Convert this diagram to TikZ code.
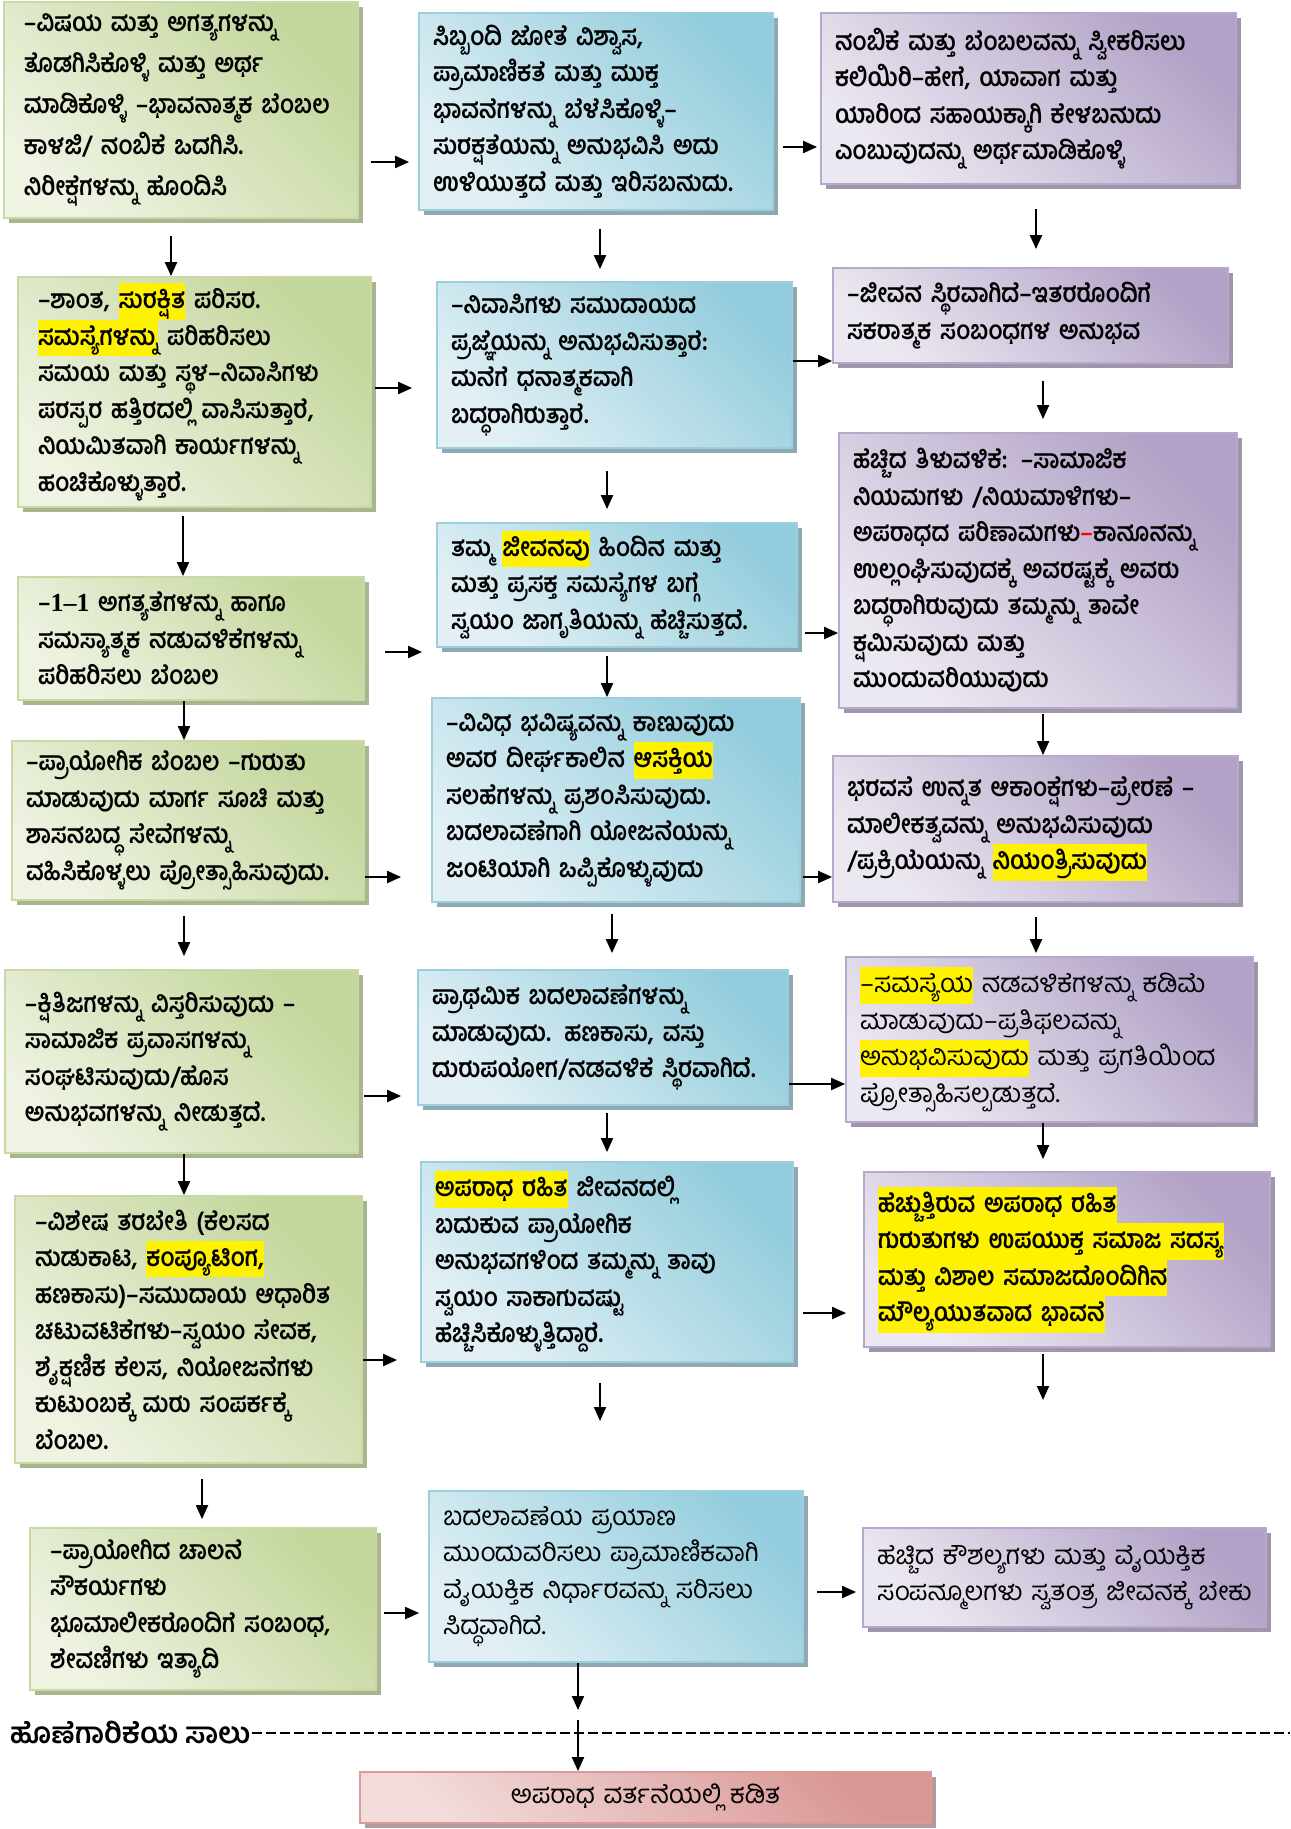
\documentclass[tikz,border=0pt]{standalone}
\usepackage{fontspec}
\usetikzlibrary{arrows.meta,shadows}
\newfontfamily\kn[Script=Kannada, FakeStretch=0.88]{Hind Mysuru}
\newfontfamily\knr[Script=Kannada]{Hind Mysuru}
\newfontfamily\tms{Liberation Serif}
\definecolor{gdark}{HTML}{C3D69B}
\definecolor{glight}{HTML}{EEF3E2}
\definecolor{gedge}{HTML}{C8D9A6}
\definecolor{gshad}{HTML}{A9B58E}
\definecolor{bdark}{HTML}{93CDDD}
\definecolor{blight}{HTML}{E2F0F5}
\definecolor{bedge}{HTML}{9CCFDD}
\definecolor{bshad}{HTML}{8FA9B3}
\definecolor{pdark}{HTML}{B2A2C7}
\definecolor{plight}{HTML}{ECE8F1}
\definecolor{pedge}{HTML}{B7A9CB}
\definecolor{pshad}{HTML}{A096AB}
\definecolor{rdark}{HTML}{D99694}
\definecolor{rlight}{HTML}{F2DCDB}
\definecolor{redge}{HTML}{DA9A98}
\definecolor{rshad}{HTML}{B39A9A}
\newcommand{\hilite}[1]{{\setlength{\fboxsep}{0pt}\colorbox{yellow}{\strut#1}}}

\begin{document}
\begin{tikzpicture}[x=0.5pt, y=-0.5pt,
  arr/.style={line width=1pt, -{Triangle[length=7pt,width=6pt]}},
  box/.style 2 args={line width=0.9pt, text width=#1, minimum height=#2, inner xsep=7pt, inner ysep=3pt,
    align=left, font=\kn\bfseries\fontsize{13pt}{18.25pt}\selectfont},
  gbox/.style 2 args={box={#1}{#2}, inner xsep=10pt, draw=gedge, left color=glight, right color=gdark, shading angle=135,
    drop shadow={shadow xshift=2.5pt, shadow yshift=-2.5pt, fill=gshad, opacity=1}},
  bbox/.style 2 args={box={#1}{#2}, draw=bedge, left color=blight, right color=bdark, shading angle=135,
    drop shadow={shadow xshift=2.5pt, shadow yshift=-2.5pt, fill=bshad, opacity=1}},
  pbox/.style 2 args={box={#1}{#2}, draw=pedge, left color=plight, right color=pdark, shading angle=135,
    drop shadow={shadow xshift=2.5pt, shadow yshift=-2.5pt, fill=pshad, opacity=1}},
  thin text/.style={font=\knr\fontsize{13pt}{18.25pt}\selectfont}]
  \useasboundingbox[fill=white] (0,0) rectangle (1290,1829);
  % column 1: green
  \node[gbox={157pt}{108pt}, font=\kn\bfseries\fontsize{13pt}{20.5pt}\selectfont] (g1) at (181,110)
    {–ವಿಷಯ ಮತ್ತು ಅಗತ್ಯಗಳನ್ನು\\ತೊಡಗಿಸಿಕೊಳ್ಳಿ ಮತ್ತು ಅರ್ಥ\\ಮಾಡಿಕೊಳ್ಳಿ –ಭಾವನಾತ್ಮಕ ಬೆಂಬಲ\\ಕಾಳಜಿ/ ನಂಬಿಕೆ ಒದಗಿಸಿ.\\ನಿರೀಕ್ಷೆಗಳನ್ನು ಹೊಂದಿಸಿ};
  \node[gbox={156.5pt}{115pt}] (g2) at (194.5,392)
    {–ಶಾಂತ, \hilite{ಸುರಕ್ಷಿತ} ಪರಿಸರ.\\\hilite{ಸಮಸ್ಯೆಗಳನ್ನು} ಪರಿಹರಿಸಲು\\ಸಮಯ ಮತ್ತು ಸ್ಥಳ–ನಿವಾಸಿಗಳು\\ಪರಸ್ಪರ ಹತ್ತಿರದಲ್ಲಿ ವಾಸಿಸುತ್ತಾರೆ,\\ನಿಯಮಿತವಾಗಿ ಕಾರ್ಯಗಳನ್ನು\\ಹಂಚಿಕೊಳ್ಳುತ್ತಾರೆ.};
  \node[gbox={153pt}{61.5pt}] (g3) at (191,638.5)
    {–{\tms 1–1} ಅಗತ್ಯತೆಗಳನ್ನು ಹಾಗೂ\\ಸಮಸ್ಯಾತ್ಮಕ ನಡುವಳಿಕೆಗಳನ್ನು\\ಪರಿಹರಿಸಲು ಬೆಂಬಲ};
  \node[gbox={162pt}{79.5pt}, inner xsep=7pt] (g4) at (188,820.5)
    {–ಪ್ರಾಯೋಗಿಕ ಬೆಂಬಲ –ಗುರುತು\\ಮಾಡುವುದು ಮಾರ್ಗ ಸೂಚಿ ಮತ್ತು\\ಶಾಸನಬದ್ಧ ಸೇವೆಗಳನ್ನು\\ವಹಿಸಿಕೊಳ್ಳಲು ಪ್ರೋತ್ಸಾಹಿಸುವುದು.};
  \node[gbox={156.5pt}{91.5pt}] (g5) at (181.5,1061.5)
    {–ಕ್ಷಿತಿಜಗಳನ್ನು ವಿಸ್ತರಿಸುವುದು –\\ಸಾಮಾಜಿಕ ಪ್ರವಾಸಗಳನ್ನು\\ಸಂಘಟಿಸುವುದು/ಹೊಸ\\ಅನುಭವಗಳನ್ನು ನೀಡುತ್ತದೆ.};
  \node[gbox={153.5pt}{133.5pt}] (g6) at (188.5,1329.5)
    {–ವಿಶೇಷ ತರಬೇತಿ (ಕೆಲಸದ\\ಹುಡುಕಾಟ, \hilite{ಕಂಪ್ಯೂಟಿಂಗ,}\\ಹಣಕಾಸು)–ಸಮುದಾಯ ಆಧಾರಿತ\\ಚಟುವಟಿಕೆಗಳು–ಸ್ವಯಂ ಸೇವಕ,\\ಶೈಕ್ಷಣಿಕ ಕೆಲಸ, ನಿಯೋಜನೆಗಳು\\ಕುಟುಂಬಕ್ಕೆ ಮರು ಸಂಪರ್ಕಕ್ಕೆ\\ಬೆಂಬಲ.};
  \node[gbox={153pt}{81pt}] (g7) at (203,1609)
    {–ಪ್ರಾಯೋಗಿದ ಚಾಲನೆ\\ಸೌಕರ್ಯಗಳು\\ಭೂಮಾಲೀಕರೊಂದಿಗೆ ಸಂಬಂಧ,\\ಶೇವಣಿಗಳು ಇತ್ಯಾದಿ};
  % column 2: blue
  \node[bbox={163pt}{98.5pt}] (b1) at (596,111.5)
    {ಸಿಬ್ಬಂದಿ ಜೋತೆ ವಿಶ್ವಾಸ,\\ಪ್ರಾಮಾಣಿಕತೆ ಮತ್ತು ಮುಕ್ತ\\ಭಾವನೆಗಳನ್ನು ಬೆಳೆಸಿಕೊಳ್ಳಿ–\\ಸುರಕ್ಷತೆಯನ್ನು ಅನುಭವಿಸಿ ಅದು\\ಉಳಿಯುತ್ತದೆ ಮತ್ತು ಇರಿಸಬಹುದು.};
  \node[bbox={163.5pt}{83pt}] (b2) at (614.5,365)
    {–ನಿವಾಸಿಗಳು ಸಮುದಾಯದ\\ಪ್ರಜ್ಞೆಯನ್ನು ಅನುಭವಿಸುತ್ತಾರೆ:\\ಮನೆಗೆ ಧನಾತ್ಮಕವಾಗಿ\\ಬದ್ಧರಾಗಿರುತ್ತಾರೆ.};
  \node[bbox={166pt}{62pt}] (b3) at (617,585)
    {ತಮ್ಮ \hilite{ಜೀವನವು} ಹಿಂದಿನ ಮತ್ತು\\ಮತ್ತು ಪ್ರಸಕ್ತ ಸಮಸ್ಯೆಗಳ ಬಗ್ಗೆ\\ಸ್ವಯಂ ಜಾಗೃತಿಯನ್ನು ಹೆಚ್ಚಿಸುತ್ತದೆ.};
  \node[bbox={170pt}{102pt}] (b4) at (616,800)
    {–ವಿವಿಧ ಭವಿಷ್ಯವನ್ನು ಕಾಣುವುದು\\ಅವರ ದೀರ್ಘಕಾಲಿನ \hilite{ಆಸಕ್ತಿಯ}\\ಸಲಹೆಗಳನ್ನು ಪ್ರಶಂಸಿಸುವುದು.\\ಬದಲಾವಣೆಗಾಗಿ ಯೋಜನೆಯನ್ನು\\ಜಂಟಿಯಾಗಿ ಒಪ್ಪಿಕೊಳ್ಳುವುದು};
  \node[bbox={171pt}{67.5pt}] (b5) at (603,1037.5)
    {ಪ್ರಾಥಮಿಕ ಬದಲಾವಣೆಗಳನ್ನು\\ಮಾಡುವುದು. ಹಣಕಾಸು, ವಸ್ತು\\ದುರುಪಯೋಗ/ನಡವಳಿಕೆ ಸ್ಥಿರವಾಗಿದೆ.};
  \node[bbox={172pt}{100pt}] (b6) at (607,1262)
    {\hilite{ಅಪರಾಧ ರಹಿತ} ಜೀವನದಲ್ಲಿ\\ಬದುಕುವ ಪ್ರಾಯೋಗಿಕ\\ಅನುಭವಗಳಿಂದ ತಮ್ಮನ್ನು ತಾವು\\ಸ್ವಯಂ ಸಾಕಾಗುವಷ್ಟು\\ಹೆಚ್ಚಿಸಿಕೊಳ್ಳುತ್ತಿದ್ದಾರೆ.};
  \node[bbox={173pt}{85.5pt}, thin text] (b7) at (616,1576.5)
    {ಬದಲಾವಣೆಯ ಪ್ರಯಾಣ\\ಮುಂದುವರಿಸಲು ಪ್ರಾಮಾಣಿಕವಾಗಿ\\ವೈಯಕ್ತಿಕ ನಿರ್ಧಾರವನ್ನು ಸರಿಸಲು\\ಸಿದ್ಧವಾಗಿದೆ.};
  % column 3: purple
  \node[pbox={193.5pt}{85.5pt}] (p1) at (1028.5,98.5)
    {ನಂಬಿಕೆ ಮತ್ತು ಬೆಂಬಲವನ್ನು ಸ್ವೀಕರಿಸಲು\\ಕಲಿಯಿರಿ–ಹೇಗೆ, ಯಾವಾಗ ಮತ್ತು\\ಯಾರಿಂದ ಸಹಾಯಕ್ಕಾಗಿ ಕೇಳಬಹುದು\\ಎಂಬುವುದನ್ನು ಅರ್ಥಮಾಡಿಕೊಳ್ಳಿ};
  \node[pbox={183.5pt}{47.5pt}] (p2) at (1030.5,315.5)
    {–ಜೀವನ ಸ್ಥಿರವಾಗಿದೆ–ಇತರರೊಂದಿಗೆ\\ಸಕರಾತ್ಮಕ ಸಂಬಂಧಗಳ ಅನುಭವ};
  \node[pbox={185pt}{137.5pt}] (p3) at (1038,570.5)
    {ಹೆಚ್ಚಿದ ತಿಳುವಳಿಕೆ: –ಸಾಮಾಜಿಕ\\ನಿಯಮಗಳು /ನಿಯಮಾಳಿಗಳು–\\ಅಪರಾಧದ ಪರಿಣಾಮಗಳು\textcolor{red}{–}ಕಾನೂನನ್ನು\\ಉಲ್ಲಂಘಿಸುವುದಕ್ಕೆ ಅವರಷ್ಟಕ್ಕೆ ಅವರು\\ಬದ್ಧರಾಗಿರುವುದು ತಮ್ಮನ್ನು ತಾವೇ\\ಕ್ಷಮಿಸುವುದು ಮತ್ತು\\ಮುಂದುವರಿಯುವುದು};
  \node[pbox={188.5pt}{73pt}] (p4) at (1035.5,829)
    {ಭರವಸೆ ಉನ್ನತ ಆಕಾಂಕ್ಷೆಗಳು–ಪ್ರೇರಣೆ –\\ಮಾಲೀಕತ್ವವನ್ನು ಅನುಭವಿಸುವುದು\\/ಪ್ರಕ್ರಿಯೆಯನ್ನು \hilite{ನಿಯಂತ್ರಿಸುವುದು}};
  \node[pbox={189.5pt}{82.5pt}, thin text] (p5) at (1049.5,1039.5)
    {\hilite{–ಸಮಸ್ಯೆಯ} ನಡವಳಿಕೆಗಳನ್ನು ಕಡಿಮೆ\\ಮಾಡುವುದು–ಪ್ರತಿಫಲವನ್ನು\\\hilite{ಅನುಭವಿಸುವುದು} ಮತ್ತು ಪ್ರಗತಿಯಿಂದ\\ಪ್ರೋತ್ಸಾಹಿಸಲ್ಪಡುತ್ತದೆ.};
  \node[pbox={189pt}{87.5pt}] (p6) at (1067,1259.5)
    {\hilite{ಹೆಚ್ಚುತ್ತಿರುವ ಅಪರಾಧ ರಹಿತ}\\\hilite{ಗುರುತುಗಳು ಉಪಯುಕ್ತ ಸಮಾಜ ಸದಸ್ಯ}\\\hilite{ಮತ್ತು ವಿಶಾಲ ಸಮಾಜದೊಂದಿಗಿನ}\\\hilite{ಮೌಲ್ಯಯುತವಾದ ಭಾವನೆ}};
  \node[pbox={187.5pt}{49.5pt}, thin text] (p7) at (1064.5,1577.5)
    {ಹೆಚ್ಚಿದ ಕೌಶಲ್ಯಗಳು ಮತ್ತು ವೈಯಕ್ತಿಕ\\ಸಂಪನ್ಮೂಲಗಳು ಸ್ವತಂತ್ರ ಜೀವನಕ್ಕೆ ಬೇಕು};
  % accountability line and outcome
  \node[anchor=west, inner sep=0pt, font=\knr\bfseries\fontsize{14.5pt}{16pt}\selectfont] (lbl) at (10,1733) {ಹೊಣೆಗಾರಿಕೆಯ ಸಾಲು};
  \coordinate (rim) at (1290,1733);
  \draw[line width=1pt, dash pattern=on 5pt off 2pt] (lbl.east) -- (rim);
  \node[box={271.5pt}{25.5pt}, align=center, thin text, draw=redge, left color=rlight, right color=rdark, shading angle=135,
    drop shadow={shadow xshift=2.5pt, shadow yshift=-2.5pt, fill=rshad, opacity=1}] (fin) at (645.5,1797.5)
    {ಅಪರಾಧ ವರ್ತನೆಯಲ್ಲಿ ಕಡಿತ};
  % green -> blue
  \draw[arr, shorten <=6pt, shorten >=4.5pt] (g1.east |- 0,162) -- (b1.west |- 0,162);
  \draw[arr, shorten <=1.5pt, shorten >=12pt] (g2.east |- 0,388) -- (b2.west |- 0,388);
  \draw[arr, shorten <=10pt, shorten >=7pt] (g3.east |- 0,652) -- (b3.west |- 0,652);
  \draw[arr, shorten >=15pt] (g4.east |- 0,877) -- (b4.west |- 0,877);
  \draw[arr, shorten <=2.5pt, shorten >=8pt] (g5.east |- 0,1096) -- (b5.west |- 0,1096);
  \draw[arr, shorten >=11.5pt] (g6.east |- 0,1360) -- (b6.west |- 0,1360);
  \draw[arr, shorten <=3.5pt, shorten >=4.5pt] (g7.east |- 0,1613) -- (b7.west |- 0,1613);
  % blue -> purple
  \draw[arr, shorten <=4.5pt, shorten >=1.5pt] (b1.east |- 0,147) -- (p1.west |- 0,147);
  \draw[arr] (b2.east |- 0,361) -- (p2.west |- 0,361);
  \draw[arr, shorten <=3.5pt] (b3.east |- 0,633) -- (p3.west |- 0,633);
  \draw[arr, shorten <=1pt] (b4.east |- 0,877) -- (p4.west |- 0,877);
  \draw[arr] (b5.east |- 0,1084) -- (p5.west |- 0,1084);
  \draw[arr, shorten <=4.5pt, shorten >=8.5pt] (b6.east |- 0,1313) -- (p6.west |- 0,1313);
  \draw[arr, shorten <=6.5pt, shorten >=3pt] (b7.east |- 0,1592) -- (p7.west |- 0,1592);
  % down the columns
  \draw[arr, shorten <=8.5pt] (g1.south -| 171,0) -- (g2.north -| 171,0);
  \draw[arr, shorten <=4pt] (g2.south -| 183,0) -- (g3.north -| 183,0);
  \draw[arr] (g3.south -| 184,0) -- (g4.north -| 184,0);
  \draw[arr, shorten <=7.5pt, shorten >=6.5pt] (g4.south -| 184,0) -- (g5.north -| 184,0);
  \draw[arr] (g5.south -| 184,0) -- (g6.north -| 184,0);
  \draw[arr, shorten <=7.5pt, shorten >=4pt] (g6.south -| 202,0) -- (g7.north -| 202,0);
  \draw[arr, shorten <=9pt, shorten >=6pt] (b1.south -| 600,0) -- (b2.north -| 600,0);
  \draw[arr, shorten <=11pt, shorten >=6.5pt] (b2.south -| 607,0) -- (b3.north -| 607,0);
  \draw[arr, shorten <=4pt] (b3.south -| 607,0) -- (b4.north -| 607,0);
  \draw[arr, shorten <=5.5pt, shorten >=8pt] (b4.south -| 612,0) -- (b5.north -| 612,0);
  \draw[arr, shorten <=3.5pt, shorten >=4.5pt] (b5.south -| 607,0) -- (b6.north -| 607,0);
  \coordinate (b6end) at (600,1421);
  \draw[arr, shorten <=10pt] (b6.south -| b6end) -- (b6end);
  \coordinate (brk1) at (578,1710);
  \coordinate (brk2) at (578,1720);
  \draw[arr] (b7.south -| brk1) -- (brk1);
  \draw[arr] (brk2) -- (fin.north -| brk2);
  \draw[arr, shorten <=12pt, shorten >=9pt] (p1.south -| 1036,0) -- (p2.north -| 1036,0);
  \draw[arr, shorten <=8.5pt, shorten >=6.5pt] (p2.south -| 1043,0) -- (p3.north -| 1043,0);
  \draw[arr, shorten <=2.5pt] (p3.south -| 1043,0) -- (p4.north -| 1043,0);
  \draw[arr, shorten <=7pt, shorten >=1.5pt] (p4.south -| 1036,0) -- (p5.north -| 1036,0);
  \draw[arr, shorten >=6pt] (p5.south -| 1043,0) -- (p6.north -| 1043,0);
  \coordinate (p6end) at (1043,1400);
  \draw[arr, shorten <=3pt] (p6.south -| p6end) -- (p6end);
\end{tikzpicture}
\end{document}
